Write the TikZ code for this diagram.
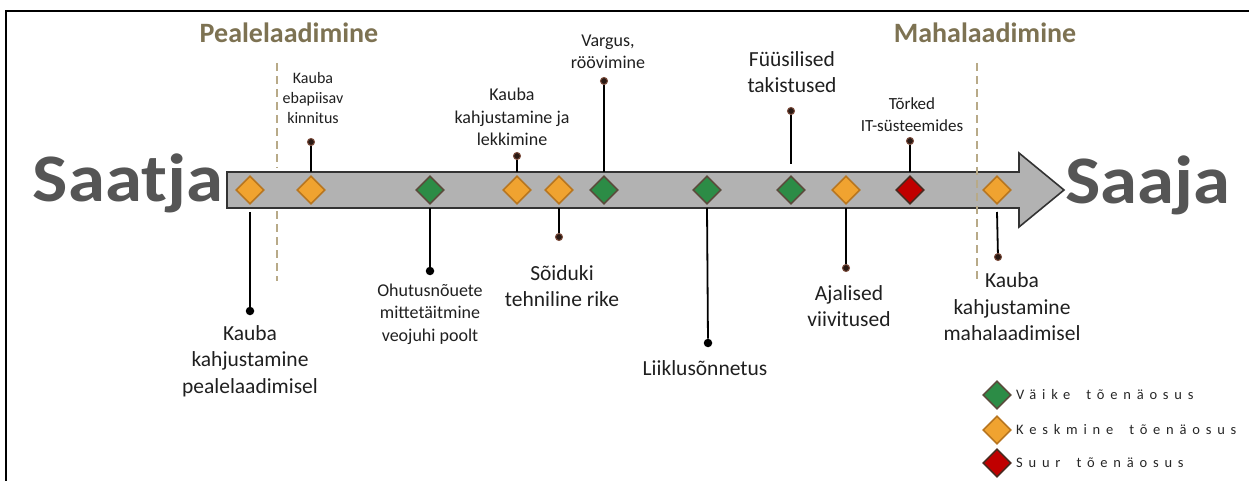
\documentclass[tikz,border=0pt]{standalone}
\usepackage{fontspec}
\setmainfont{Carlito}
\newfontfamily\legfont[LetterSpace=40]{Carlito}
\usetikzlibrary{shapes.geometric}
\definecolor{cOr}{HTML}{F0A330}
\definecolor{cOrB}{HTML}{B87620}
\definecolor{cGr}{HTML}{2C8C46}
\definecolor{cGrB}{HTML}{5A4C3C}
\definecolor{cRd}{HTML}{C00000}
\definecolor{cRdB}{HTML}{4A2A20}
\definecolor{cTitle}{HTML}{7D7252}
\definecolor{cDash}{HTML}{B8AA88}
\definecolor{cArrow}{HTML}{B2B2B2}
\definecolor{cBig}{HTML}{555555}
\definecolor{cDot}{HTML}{2A1A14}
\definecolor{cDotB}{HTML}{7A4A3A}
\begin{document}
\begin{tikzpicture}[x=1pt,y=-1pt,
  dia/.style={diamond, aspect=1, minimum width=28pt, minimum height=28pt, inner sep=0pt, line width=1.6pt},
  dlow/.style={dia, fill=cGr, draw=cGrB},
  dmed/.style={dia, fill=cOr, draw=cOrB},
  dhigh/.style={dia, fill=cRd, draw=cRdB},
  stem/.style={line width=1.8pt, black},
  dotb/.style={circle, fill=black, inner sep=0pt, minimum size=8.5pt},
  dotr/.style={circle, fill=cDot, draw=cDotB, line width=1pt, inner sep=0pt, minimum size=7pt},
  lab/.style={align=center, text=black!88, inner sep=0pt},
  fs/.style={font=\fontsize{16}{20}\selectfont},
  fm/.style={font=\fontsize{18}{22.5}\selectfont},
  fl/.style={font=\fontsize{21.5}{26.5}\selectfont},
  title/.style={font=\fontsize{28}{30}\selectfont\bfseries, text=cTitle, inner sep=0pt},
  big/.style={font=\fontsize{68}{70}\selectfont\bfseries, text=cBig, inner sep=0pt, anchor=base, xscale=1.1},
  dashl/.style={draw=cDash, line width=2.5pt, dash pattern=on 8pt off 5pt},
  leg/.style={font=\fontsize{14.5}{16}\selectfont\legfont, text=black!85, anchor=west, inner sep=0pt}
]
\useasboundingbox (0,0) rectangle (1249,481);
% frame
\draw[line width=2.5pt] (6,481) -- (6,11) -- (1249,11);

% titles
\node[title] (tp) at (289,33) {Pealelaadimine};
\node[title] (tm) at (985,33) {Mahalaadimine};

% big words
\node[big] (saatja) at (128,201) {Saatja};
\node[big] (saaja) at (1148,203) {Saaja};

% dashed line (left) behind arrow
\coordinate (pd1) at (277,63);
\coordinate (pd2) at (277,168);
\coordinate (pd3) at (277,211);
\coordinate (pd4) at (277,281);
\draw[dashl] (pd1) -- (pd2);
\draw[dashl] (pd3) -- (pd4);

% arrow
\draw[fill=cArrow, draw=black!80, line width=1.6pt, line join=miter]
  (227,172) -- (1019,172) -- (1019,153) -- (1064,190) -- (1019,227) -- (1019,208) -- (227,208) -- cycle;

% dashed line (right) over arrow
\coordinate (md1) at (977,63);
\coordinate (md2) at (977,281);
\draw[dashl] (md1) -- (md2);

% diamonds
\node[dmed] (k1) at (250,190) {};
\node[dmed] (k2) at (311,190) {};
\node[dlow] (k3) at (430,190) {};
\node[dmed] (k4) at (517,190) {};
\node[dmed] (k5) at (559,190) {};
\node[dlow] (k6) at (604,190) {};
\node[dlow] (k7) at (707,190) {};
\node[dlow] (k8) at (791,190) {};
\node[dmed] (k9) at (846,190) {};
\node[dhigh] (k10) at (910,190) {};
\node[dmed] (k11) at (997,190) {};

% stems above
\coordinate (a2) at (311,172);
\coordinate (a4) at (517,172);
\coordinate (a6) at (604,172);
\coordinate (a8) at (791,164);
\coordinate (a10) at (910,172);
\node[dotr] (p2) at (311,142) {};
\node[dotr] (p4) at (517,156) {};
\node[dotr] (p6) at (604,81) {};
\node[dotr] (p8) at (791,111) {};
\node[dotr] (p10) at (910,141) {};
\draw[stem] (a2) -- (p2);
\draw[stem] (a4) -- (p4);
\draw[stem] (a6) -- (p6);
\draw[stem] (a8) -- (p8);
\draw[stem] (a10) -- (p10);

% stems below
\coordinate (b1) at (250,212);
\coordinate (b3) at (430,208);
\coordinate (b5) at (559,208);
\coordinate (b7) at (707,208);
\coordinate (b9) at (846,208);
\coordinate (b11) at (997,212);
\node[dotb] (q1) at (250,311) {};
\node[dotb] (q3) at (430,271) {};
\node[dotr] (q5) at (559,237) {};
\node[dotb] (q7) at (708,343) {};
\node[dotr] (q9) at (846,268) {};
\node[dotr] (q11) at (998,257) {};
\draw[stem] (b1) -- (q1);
\draw[stem] (b3) -- (q3);
\draw[stem] (b5) -- (q5);
\draw[stem] (b7) -- (q7);
\draw[stem] (b9) -- (q9);
\draw[stem] (b11) -- (q11);

% labels above
\node[lab, fs] (l2) at (313,98) {Kauba\\ebapiisav\\kinnitus};
\node[lab, fm] (l4) at (512,117) {Kauba\\kahjustamine ja\\lekkimine};
\node[lab, fm] (l6) at (608,52) {Vargus,\\röövimine};
\node[lab, fl] (l8) at (792,72) {Füüsilised\\takistused};
\node[lab, font=\fontsize{17}{22}\selectfont] (l10) at (912,115) {Tõrked\\IT-süsteemides};

% labels below
\node[lab, fl] (l1) at (250,361) {Kauba\\kahjustamine\\pealelaadimisel};
\node[lab, fm] (l3) at (430,314) {Ohutusnõuete\\mittetäitmine\\veojuhi poolt};
\node[lab, fl] (l5) at (562,286) {Sõiduki\\tehniline rike};
\node[lab, fl] (l7) at (705,368) {Liiklusõnnetus};
\node[lab, fl] (l9) at (849,306) {Ajalised\\viivitused};
\node[lab, fl] (l11) at (1012,307) {Kauba\\kahjustamine\\mahalaadimisel};

% legend
\node[dlow] (g1) at (997,395) {};
\node[dmed] (g2) at (997,430) {};
\node[dhigh] (g3) at (997,463) {};
\node[leg] (t1) at (1016,395) {Väike\hspace{1.1em}tõenäosus};
\node[leg] (t2) at (1016,430) {Keskmine\hspace{1.1em}tõenäosus};
\node[leg] (t3) at (1016,463) {Suur\hspace{1.1em}tõenäosus};
\end{tikzpicture}
\end{document}
